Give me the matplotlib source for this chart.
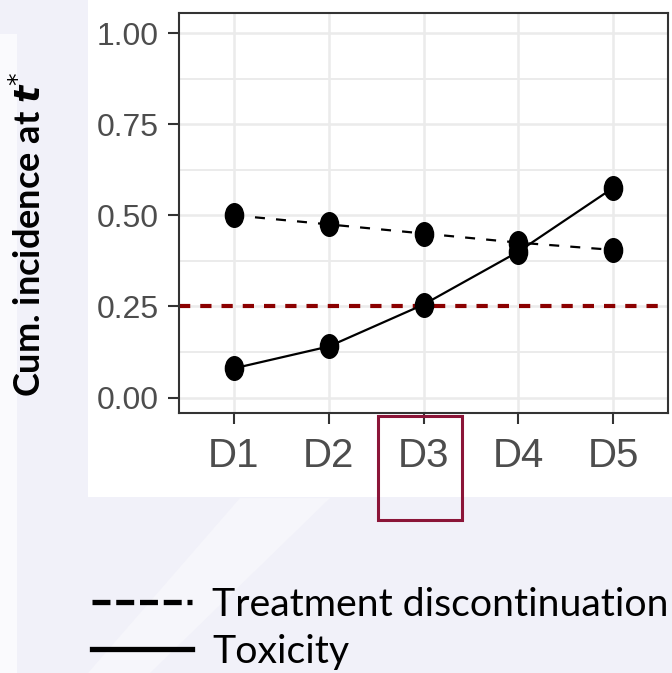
import numpy as np
import matplotlib
matplotlib.use('Agg')
import matplotlib.pyplot as plt
from matplotlib.path import Path
from matplotlib.transforms import Affine2D
from matplotlib.patches import Rectangle, Polygon
from matplotlib.lines import Line2D

# data
doses = ['D1', 'D2', 'D3', 'D4', 'D5']
discontinuation = [0.50, 0.475, 0.45, 0.425, 0.405]
toxicity = [0.08, 0.14, 0.255, 0.40, 0.575]
target = 0.25
yticks = [0.00, 0.25, 0.50, 0.75, 1.00]
legend_labels = ['Treatment discontinuation', 'Toxicity']

W, H = 672, 673
fig = plt.figure(figsize=(W / 100, H / 100), dpi=100, facecolor='#F1F1F9')

# slide background: faint lighter shapes
fig.patches.append(Polygon([(0, 0), (17 / W, 0), (17 / W, 0.95), (0, 0.95)],
                           closed=True, transform=fig.transFigure,
                           facecolor='#FAFAFD', edgecolor='none', zorder=-2))
fig.patches.append(Polygon([(88 / W, 0), (150 / W, 0), (330 / W, 0.26), (240 / W, 0.26)],
                           closed=True, transform=fig.transFigure,
                           facecolor='#F6F6FB', edgecolor='none', zorder=-2))
# white panel behind the chart
fig.patches.append(Rectangle((88 / W, (H - 497) / H), 1, 497 / H,
                             transform=fig.transFigure, facecolor='white',
                             edgecolor='none', zorder=-1))

ax = fig.add_axes([179 / W, (H - 413) / H, (668 - 179) / W, 400 / H])
ax.set_zorder(1)
ax.set_facecolor('white')
x = np.arange(1, len(doses) + 1)

ell = Path.unit_circle().transformed(Affine2D().scale(0.77, 1.0))

ax.axhline(target, color='#8B0000', lw=3, ls=(0, (2.7, 2.4)), zorder=2)
ax.plot(x, discontinuation, color='black', lw=1.6, ls=(0, (4.5, 5)),
        marker=ell, ms=17, zorder=3)
ax.plot(x, toxicity, color='black', lw=1.6, ls='-',
        marker=ell, ms=17, zorder=3)

ax.set_xlim(0.42, 5.58)
ax.set_ylim(-0.0425, 1.055)
ax.set_xticks(x)
ax.set_xticklabels(doses)
ax.set_yticks(yticks)
ax.set_yticklabels(['%.2f' % v for v in yticks])
ax.set_yticks([0.125, 0.375, 0.625, 0.875], minor=True)
ax.tick_params(axis='y', which='minor', length=0)

ax.grid(True, which='major', color='#EBEBEB', lw=1.8, zorder=0)
ax.grid(True, which='minor', axis='y', color='#EBEBEB', lw=1.4, zorder=0)
ax.set_axisbelow(True)

for s in ax.spines.values():
    s.set_color('#333333')
    s.set_linewidth(1.5)

narrow = ['Liberation Sans', 'DejaVu Sans']
ax.tick_params(axis='both', which='major', length=8, width=1.5, color='#333333',
               labelcolor='#4D4D4D')
ax.tick_params(axis='y', pad=6.5)
ax.tick_params(axis='x', pad=9)
for lab in ax.get_yticklabels():
    lab.set_family(narrow)
    lab.set_fontsize(23)
for lab in ax.get_xticklabels():
    lab.set_family(narrow)
    lab.set_fontsize(29)

# y label
fig.text(29 / W, 1 - 234 / H, r'Cum. incidence at $\boldsymbol{t}^{*}$',
         rotation=90, ha='center', va='center', fontsize=26,
         fontweight='bold', family=['Lato', 'DejaVu Sans'], color='black')

# box round the selected dose
fig.patches.append(Rectangle((378 / W, (H - 520) / H), 84 / W, 104 / H,
                             transform=fig.transFigure, facecolor='none',
                             edgecolor='#8B1538', lw=2.2, zorder=5))

handles = [Line2D([], [], color='black', lw=3.8, ls=(0, (3.4, 1.1))),
           Line2D([], [], color='black', lw=3.8, ls='-')]
fig.legend(handles, legend_labels, loc='upper left',
           bbox_to_anchor=(92 / W, 1 - 587 / H), frameon=False,
           prop={'family': ['Lato', 'DejaVu Sans'], 'size': 28.3},
           handlelength=2.55, handletextpad=0.5, labelspacing=0.27,
           borderpad=0, borderaxespad=0)

fig.savefig('out.png', dpi=100, facecolor=fig.get_facecolor())
